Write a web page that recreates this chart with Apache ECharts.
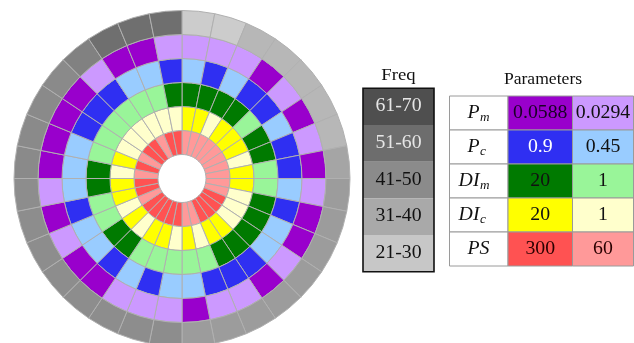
<!DOCTYPE html>
<html>
<head>
<meta charset="utf-8">
<script src="https://cdn.jsdelivr.net/npm/echarts@6/dist/echarts.min.js"></script>
<style>
  html, body { margin: 0; padding: 0; background: #ffffff; }
  #chart { width: 634px; height: 343px; }
</style>
</head>
<body>
<div id="chart"></div>
<script>
// 32 runs of the two-level full factorial design, clockwise from 12 o'clock
const runs = ['1','2','3','4','5','6','7','8','9','10','11','12','13','14','15','16',
              '17','18','19','20','21','22','23','24','25','26','27','28','29','30','31','32'];

// parameter level used in each run (outer ring to inner ring)
const pmValues  = [0.0294,0.0294,0.0294,0.0588,0.0294,0.0588,0.0294,0.0588,
                   0.0294,0.0588,0.0588,0.0294,0.0588,0.0294,0.0294,0.0588,
                   0.0294,0.0294,0.0294,0.0588,0.0588,0.0294,0.0588,0.0294,
                   0.0588,0.0588,0.0588,0.0588,0.0294,0.0588,0.0588,0.0294];
const pcValues  = [0.45,0.9,0.45,0.9,0.9,0.45,0.9,0.9,
                   0.45,0.9,0.45,0.45,0.9,0.9,0.9,0.45,
                   0.45,0.9,0.45,0.9,0.45,0.45,0.9,0.45,
                   0.45,0.45,0.9,0.9,0.9,0.45,0.45,0.9];
const dimValues = [20,20,20,20,1,20,20,1,
                   1,20,20,20,20,20,1,1,
                   1,1,1,20,20,1,1,20,
                   20,1,1,1,1,1,1,20];
const dicValues = [20,20,1,20,20,20,1,20,
                   20,1,1,1,20,20,1,20,
                   1,20,20,1,20,1,20,20,
                   1,20,1,1,1,1,1,1];
const psValues  = [60,60,60,60,60,60,60,60,
                   60,60,300,300,300,300,60,60,
                   300,300,300,300,300,60,300,300,
                   60,300,60,300,300,60,300,300];

// frequency of each run
const freqValues = [24,24,31,31,31,31,31,37,
                    40,40,40,40,40,40,40,40,
                    45,45,45,45,45,45,45,45,
                    46,46,46,46,49,55,55,55];

// legend bins and the parameter table
const freqBins = ['61-70','51-60','41-50','31-40','21-30'];
const paramNames = [['P','m'],['P','c'],['DI','m'],['DI','c'],['PS','']];
const paramHigh = ['0.0588','0.9','20','20','300'];
const paramLow  = ['0.0294','0.45','1','1','60'];

const SERIF = '"Liberation Serif", "Times New Roman", serif';
const WIDE = 1.1;   // horizontal stretch of the serif labels

const levelColors = {
  pm:  { '0.0588': '#9900cc', '0.0294': '#cc99ff' },
  pc:  { '0.9': '#2f2ff2', '0.45': '#99ccff' },
  dim: { '20': '#007a00', '1': '#99f599' },
  dic: { '20': '#ffff00', '1': '#ffffcc' },
  ps:  { '300': '#ff5252', '60': '#ff9999' }
};
const highTextColor = ['#1a0026', '#ffffff', '#111111', '#111111', '#2a0000'];
const lowTextColor  = ['#111111', '#111111', '#111111', '#111111', '#2a0000'];
const tableKeys = ['pm','pc','dim','dic','ps'];

function freqGray(f) {
  let g = Math.round(199 - 3 * (f - 25.5));
  g = Math.max(0, Math.min(255, g));
  const h = g.toString(16).padStart(2, '0');
  return '#' + h + h + h;
}
function binMid(label) {
  const p = label.split('-').map(Number);
  return (p[0] + p[1]) / 2;
}

function ringSeries(name, values, colorOf) {
  return {
    name: name,
    type: 'bar',
    coordinateSystem: 'polar',
    stack: 'rings',
    barCategoryGap: '0%',
    silent: true,
    itemStyle: { borderColor: '#b0b0b0', borderWidth: 1 },
    data: values.map(v => ({ value: 1, itemStyle: { color: colorOf(v) } }))
  };
}

const series = [
  {
    name: 'hole', type: 'bar', coordinateSystem: 'polar', stack: 'rings',
    barCategoryGap: '0%', silent: true,
    itemStyle: { color: 'rgba(0,0,0,0)' },
    data: runs.map(() => 1)
  },
  ringSeries('PS', psValues, v => levelColors.ps[String(v)]),
  ringSeries('DIc', dicValues, v => levelColors.dic[String(v)]),
  ringSeries('DIm', dimValues, v => levelColors.dim[String(v)]),
  ringSeries('Pc', pcValues, v => levelColors.pc[String(v)]),
  ringSeries('Pm', pmValues, v => levelColors.pm[String(v)]),
  ringSeries('Freq', freqValues, v => freqGray(v))
];

function label(x, y, text, font, fill, align) {
  return { type: 'text', x: x, y: y, scaleX: WIDE,
    style: { text: text, font: font, fill: fill, textAlign: align || 'center', textVerticalAlign: 'middle' } };
}

// legend of frequency classes
const graphics = [];
const lgX = 363, lgY = 88.3, lgW = 71, lgH = 36.7;
graphics.push(label(lgX + lgW / 2, 76, 'Freq', '17px ' + SERIF, '#111'));
freqBins.forEach((b, k) => {
  graphics.push({ type: 'rect', shape: { x: lgX, y: lgY + k * lgH, width: lgW, height: lgH },
    style: { fill: freqGray(binMid(b)) } });
  graphics.push(label(lgX + lgW / 2, lgY + k * lgH + lgH / 2, b, '18px ' + SERIF,
    k < 2 ? '#e6e6e6' : '#111'));
});
graphics.push({ type: 'rect', shape: { x: lgX, y: lgY, width: lgW, height: lgH * freqBins.length },
  style: { fill: 'none', stroke: '#111', lineWidth: 1.6 } });

// parameter table
const tX = [449.5, 508, 572.5, 633.5];
const tY = 96, tH = 34;
graphics.push(label(543, 80, 'Parameters', '16px ' + SERIF, '#111'));
paramNames.forEach((p, r) => {
  const y0 = tY + r * tH, cy = y0 + tH / 2;
  const key = tableKeys[r];
  const hiColor = levelColors[key][paramHigh[r]];
  const loColor = levelColors[key][paramLow[r]];
  graphics.push({ type: 'rect', shape: { x: tX[0], y: y0, width: tX[1] - tX[0], height: tH },
    style: { fill: '#ffffff', stroke: '#9a9a9a', lineWidth: 1 } });
  graphics.push({ type: 'rect', shape: { x: tX[1], y: y0, width: tX[2] - tX[1], height: tH },
    style: { fill: hiColor, stroke: '#9a9a9a', lineWidth: 1 } });
  graphics.push({ type: 'rect', shape: { x: tX[2], y: y0, width: tX[3] - tX[2], height: tH },
    style: { fill: loColor, stroke: '#9a9a9a', lineWidth: 1 } });
  if (p[1]) {
    graphics.push(label(479.5, cy, p[0], 'italic 18px ' + SERIF, '#111', 'right'));
    graphics.push(label(480, cy + 5, p[1], 'italic 12px ' + SERIF, '#111', 'left'));
  } else {
    graphics.push(label(478.5, cy, p[0], 'italic 18px ' + SERIF, '#111'));
  }
  graphics.push(label((tX[1] + tX[2]) / 2, cy, paramHigh[r], '18px ' + SERIF, highTextColor[r]));
  graphics.push(label((tX[2] + tX[3]) / 2, cy, paramLow[r], '18px ' + SERIF, lowTextColor[r]));
});

const chart = echarts.init(document.getElementById('chart'), null, { renderer: 'canvas' });
chart.setOption({
  animation: false,
  backgroundColor: '#ffffff',
  polar: { center: [182, 178.5], radius: 168 },
  angleAxis: { type: 'category', data: runs, startAngle: 90, clockwise: true, show: false },
  radiusAxis: { type: 'value', min: 0, max: 7, show: false },
  series: series,
  graphic: graphics
});
</script>
</body>
</html>
